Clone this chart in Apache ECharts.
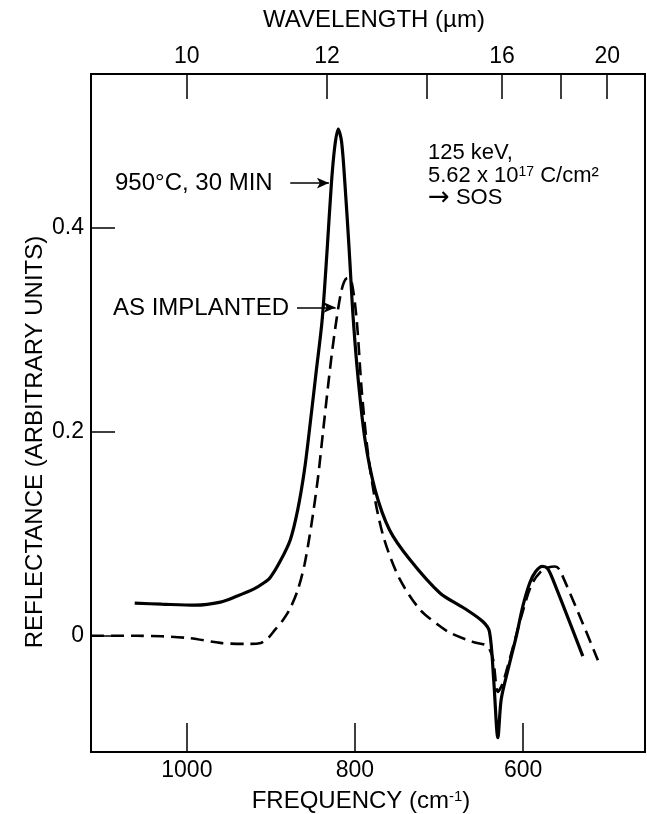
<!DOCTYPE html>
<html><head><meta charset="utf-8">
<script src="https://cdn.jsdelivr.net/npm/echarts@6/dist/echarts.min.js"></script>
<style>html,body{margin:0;padding:0;background:#fff}#c{width:647px;height:814px}</style>
</head><body><div id="c"></div>
<script>
// 950°C, 30 MIN (solid)
const annealedFreq = [1062, 1030, 990, 960, 940, 920, 910, 901, 889, 877, 868, 860, 853, 846, 839, 833, 828, 824, 820, 816, 812, 807, 802, 796, 788, 776, 759, 735, 699, 670, 648, 640, 635, 630, 626, 617, 608, 600, 592, 585, 577, 571, 565, 529];
const annealedRefl = [0.032, 0.031, 0.030, 0.033, 0.039, 0.046, 0.051, 0.057, 0.073, 0.094, 0.124, 0.163, 0.21, 0.26, 0.31, 0.38, 0.444, 0.480, 0.497, 0.485, 0.444, 0.38, 0.31, 0.25, 0.192, 0.143, 0.104, 0.075, 0.042, 0.027, 0.014, 0.004, -0.043, -0.100, -0.062, -0.030, 0.0, 0.030, 0.052, 0.063, 0.068, 0.066, 0.056, -0.020];
// AS IMPLANTED (dashed)
const implantedFreq = [1114, 1060, 1000, 960, 930, 912, 903, 895, 886, 877, 868, 860, 852, 844, 838, 832, 827, 822, 817, 813, 809, 804, 798, 792, 785, 776, 765, 747, 723, 700, 687, 660, 643, 636, 630, 625, 620, 610, 600, 590, 580, 570, 562, 556, 511];
const implantedRefl = [0.0, 0.0, -0.002, -0.007, -0.008, -0.007, -0.002, 0.006, 0.015, 0.027, 0.045, 0.07, 0.108, 0.155, 0.2, 0.245, 0.28, 0.31, 0.335, 0.347, 0.351, 0.347, 0.31, 0.241, 0.182, 0.133, 0.094, 0.056, 0.026, 0.01, 0.003, -0.006, -0.01, -0.022, -0.055, -0.048, -0.035, -0.005, 0.025, 0.05, 0.062, 0.067, 0.068, 0.064, -0.024];

const freqTicks = [1000, 800, 600];
const wavelengthTicks = [10, 12, 14, 16, 18, 20];
const wavelengthLabels = [10, 12, 16, 20];
const reflTicks = [0, 0.2, 0.4];

const FONT = "'Liberation Sans', Arial, Helvetica, sans-serif";
const toPairs = (xs, ys) => xs.map((x, i) => [x, ys[i]]);
const wlToFreq = l => 10000 / l;

const chart = echarts.init(document.getElementById('c'), null, {renderer: 'canvas'});
const axisCommon = {
  type: 'value', inverse: true, min: 455, max: 1114,
  axisLine: {show: true, onZero: false, lineStyle: {color: '#000', width: 2}},
  splitLine: {show: false}
};
chart.setOption({
  animation: false,
  backgroundColor: '#fff',
  grid: {left: 91, right: 2, top: 74, bottom: 62, show: true, borderColor: '#000', borderWidth: 2, containLabel: false, outerBoundsMode: 'none'},
  xAxis: [
    Object.assign({}, axisCommon, {
      position: 'bottom',
      axisTick: {show: true, inside: true, length: 29, customValues: freqTicks, lineStyle: {color: '#000', width: 1.5}},
      axisLabel: {customValues: freqTicks, color: '#000', fontSize: 23, fontFamily: FONT, margin: 7, formatter: v => String(Math.round(v))}
    }),
    Object.assign({}, axisCommon, {
      position: 'top',
      axisTick: {show: true, inside: true, length: 25, customValues: wavelengthTicks.map(wlToFreq), lineStyle: {color: '#000', width: 1.5}},
      axisLabel: {customValues: wavelengthLabels.map(wlToFreq), color: '#000', fontSize: 23, fontFamily: FONT, margin: 6, formatter: v => String(Math.round(10000 / v))}
    })
  ],
  yAxis: {
    type: 'value', min: -0.114, max: 0.551,
    axisLine: {show: true, lineStyle: {color: '#000', width: 2}},
    axisTick: {show: true, inside: true, length: 24, customValues: reflTicks, lineStyle: {color: '#000', width: 1.5}},
    axisLabel: {customValues: reflTicks, color: '#000', fontSize: 23, fontFamily: FONT, margin: 7, formatter: v => v === 0 ? '0' : v.toFixed(1)},
    splitLine: {show: false}
  },
  series: [
    {
      name: '950°C, 30 MIN', type: 'line', xAxisIndex: 0, data: toPairs(annealedFreq, annealedRefl),
      showSymbol: false, smooth: 0.3,
      lineStyle: {color: '#000', width: 3.2},
      markLine: {
        silent: true, symbol: ['none', 'arrow'], symbolSize: [8, 12], animation: false,
        label: {show: false},
        lineStyle: {color: '#000', width: 1.5, type: 'solid'},
        data: [
          [{coord: [877, 0.444]}, {coord: [831, 0.444]}],
          [{coord: [869, 0.322]}, {coord: [823, 0.322]}]
        ]
      }
    },
    {
      name: 'AS IMPLANTED', type: 'line', xAxisIndex: 0, data: toPairs(implantedFreq, implantedRefl),
      showSymbol: false, smooth: 0.3,
      lineStyle: {color: '#000', width: 2.6, type: [13, 7]}
    }
  ],
  graphic: [
    {type: 'text', style: {text: 'WAVELENGTH (µm)', x: 374, y: 20, align: 'center', verticalAlign: 'middle', font: '24px ' + FONT, fill: '#000'}},
    {type: 'text', style: {text: 'FREQUENCY (cm{sup|-1})', x: 361, y: 801, align: 'center', verticalAlign: 'middle', font: '24px ' + FONT, fill: '#000',
      rich: {sup: {fontSize: 15, fontFamily: FONT, fill: '#000', verticalAlign: 'top'}}}},
    {type: 'text', rotation: Math.PI / 2, x: 35, y: 442, style: {text: 'REFLECTANCE (ARBITRARY UNITS)', x: 0, y: 0, align: 'center', verticalAlign: 'middle', font: '24px ' + FONT, fill: '#000'}},
    {type: 'text', style: {text: '950°C, 30 MIN', x: 115, y: 183, align: 'left', verticalAlign: 'middle', font: '24px ' + FONT, fill: '#000'}},
    {type: 'text', style: {text: 'AS IMPLANTED', x: 113, y: 308, align: 'left', verticalAlign: 'middle', font: '24px ' + FONT, fill: '#000'}},
    {type: 'text', style: {text: '125 keV,', x: 428, y: 153, align: 'left', verticalAlign: 'middle', font: '22px ' + FONT, fill: '#000'}},
    {type: 'text', style: {text: '5.62 x 10{sup|17} C/cm²', x: 428, y: 176, align: 'left', verticalAlign: 'middle', font: '22px ' + FONT, fill: '#000',
      rich: {sup: {fontSize: 14, fontFamily: FONT, fill: '#000', verticalAlign: 'top'}}}},
    {type: 'text', style: {text: '{arr|→} SOS', x: 428, y: 198, align: 'left', verticalAlign: 'middle', font: '22px ' + FONT, fill: '#000',
      rich: {arr: {fontSize: 26, fontFamily: "'DejaVu Sans', sans-serif", fill: '#000'}}}}
  ]
});
</script>
</body></html>
